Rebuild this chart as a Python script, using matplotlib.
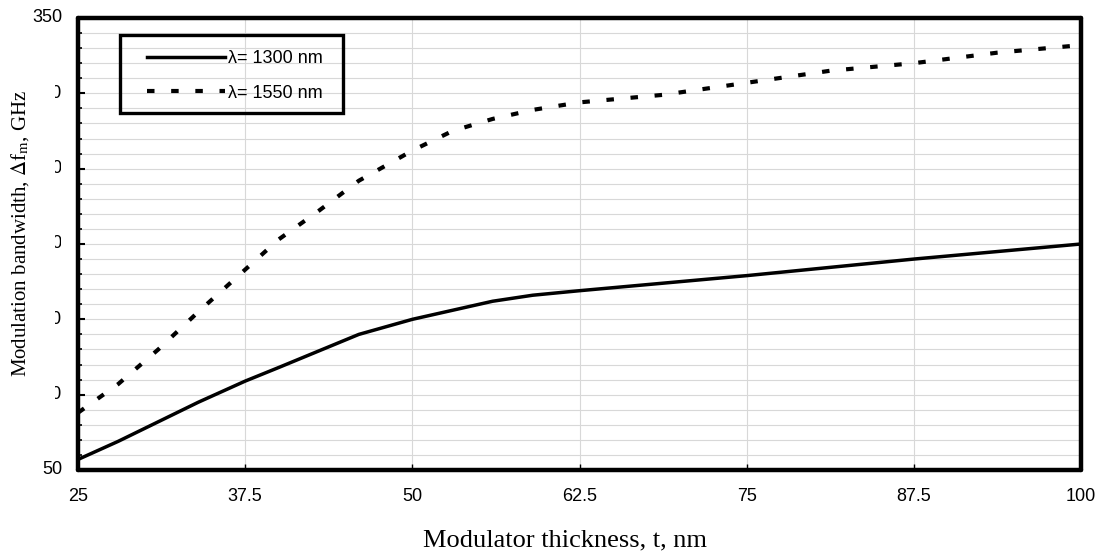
import numpy as np
import matplotlib
matplotlib.use("Agg")
import matplotlib.pyplot as plt
from matplotlib.patches import Rectangle
from matplotlib.transforms import Bbox, blended_transform_factory

# data
t_1300 = [25, 28, 31, 34, 37.5, 40, 43, 46, 50, 53, 56, 59, 62.5, 75, 87.5, 100]
bw_1300 = [57, 69, 82, 95, 109, 118, 129, 140, 150, 156, 162, 166, 169, 179, 190, 200]

t_1550 = [25, 28, 31, 34, 37.5, 40, 43, 46, 50, 53, 56, 59, 62.5, 68.75, 75, 81.25, 87.5, 93.75, 100]
bw_1550 = [88, 107, 130, 155, 183, 203, 222, 242, 262, 275, 283, 289, 294, 299, 307, 315, 320, 327, 332]

x_ticks = [25, 37.5, 50, 62.5, 75, 87.5, 100]
x_labels = ["25", "37.5", "50", "62.5", "75", "87.5", "100"]
y_ticks = [50, 100, 150, 200, 250, 300, 350]
y_labels = ["50", "100", "150", "200", "250", "300", "350"]

plt.rcParams["mathtext.fontset"] = "stix"

W, H = 1102, 555
fig = plt.figure(figsize=(W / 100, H / 100), dpi=100)
ax = fig.add_axes([78 / W, (H - 470) / H, (1081 - 78) / W, (470 - 18) / H])

sans = "Liberation Sans"
serif = "Liberation Serif"

ax.plot(t_1300, bw_1300, color="black", lw=2.5, label="λ= 1300 nm",
        solid_joinstyle="round")
ax.plot(t_1550, bw_1550, color="black", lw=3, linestyle=(0, (1.8, 4.0)),
        dash_capstyle="butt", label="λ= 1550 nm")

ax.set_xlim(25, 100)
ax.set_ylim(50, 350)

ax.set_xticks(x_ticks)
ax.set_xticklabels(x_labels, fontfamily=sans, fontsize=13)
ax.set_yticks(y_ticks)
ax.set_yticklabels([])
ax.set_yticks(np.arange(50, 351, 10), minor=True)

ax.tick_params(axis="x", direction="in", length=4, width=1, pad=13)
ax.tick_params(axis="y", which="major", direction="in", length=5, width=1.5)
ax.tick_params(axis="y", which="minor", direction="in", length=3, width=1.2)

ax.grid(True, which="major", axis="x", color="#d8d8d8", lw=0.8)
ax.grid(True, which="both", axis="y", color="#d8d8d8", lw=0.8)
ax.set_axisbelow(True)

for s in ax.spines.values():
    s.set_linewidth(3.2)
    s.set_color("black")
    s.set_capstyle("round")

# y tick labels: only 50 and 350 fully shown, the rest cut off at the left
trans = blended_transform_factory(fig.transFigure, ax.transData)
clip = Bbox([[55, 0], [60.5, H]])
for yv, lab in zip(y_ticks, y_labels):
    txt = fig.text(62 / W, yv, lab, transform=trans, ha="right", va="center",
                   fontfamily=sans, fontsize=13)
    if lab not in ("50", "350"):
        txt.set_clip_box(clip)
        txt.set_clip_on(True)
        txt.set_clip_path(None)

# legend entries without frame, box drawn separately
leg = ax.legend(loc="upper left", bbox_to_anchor=(147 / W, 1 - 50 / H),
                bbox_transform=fig.transFigure, frameon=False,
                handlelength=4.3, handletextpad=0.2, borderpad=0,
                labelspacing=0.97, borderaxespad=0,
                prop={"family": sans, "size": 13})
fig.patches.append(Rectangle((120 / W, 1 - 113 / H), 223 / W, 78 / H,
                             transform=fig.transFigure, fill=False,
                             edgecolor="black", lw=2.4, zorder=5))

fig.text(565 / W, 1 - 540 / H, "Modulator thickness, t, nm", ha="center", va="center",
         fontfamily=serif, fontsize=19)
fig.text(20 / W, 1 - 233 / H, r"Modulation bandwidth, $\Delta$f$_\mathrm{m}$, GHz",
         ha="center", va="center", rotation=90, fontfamily=serif, fontsize=15)

fig.savefig("out.png", dpi=100)
